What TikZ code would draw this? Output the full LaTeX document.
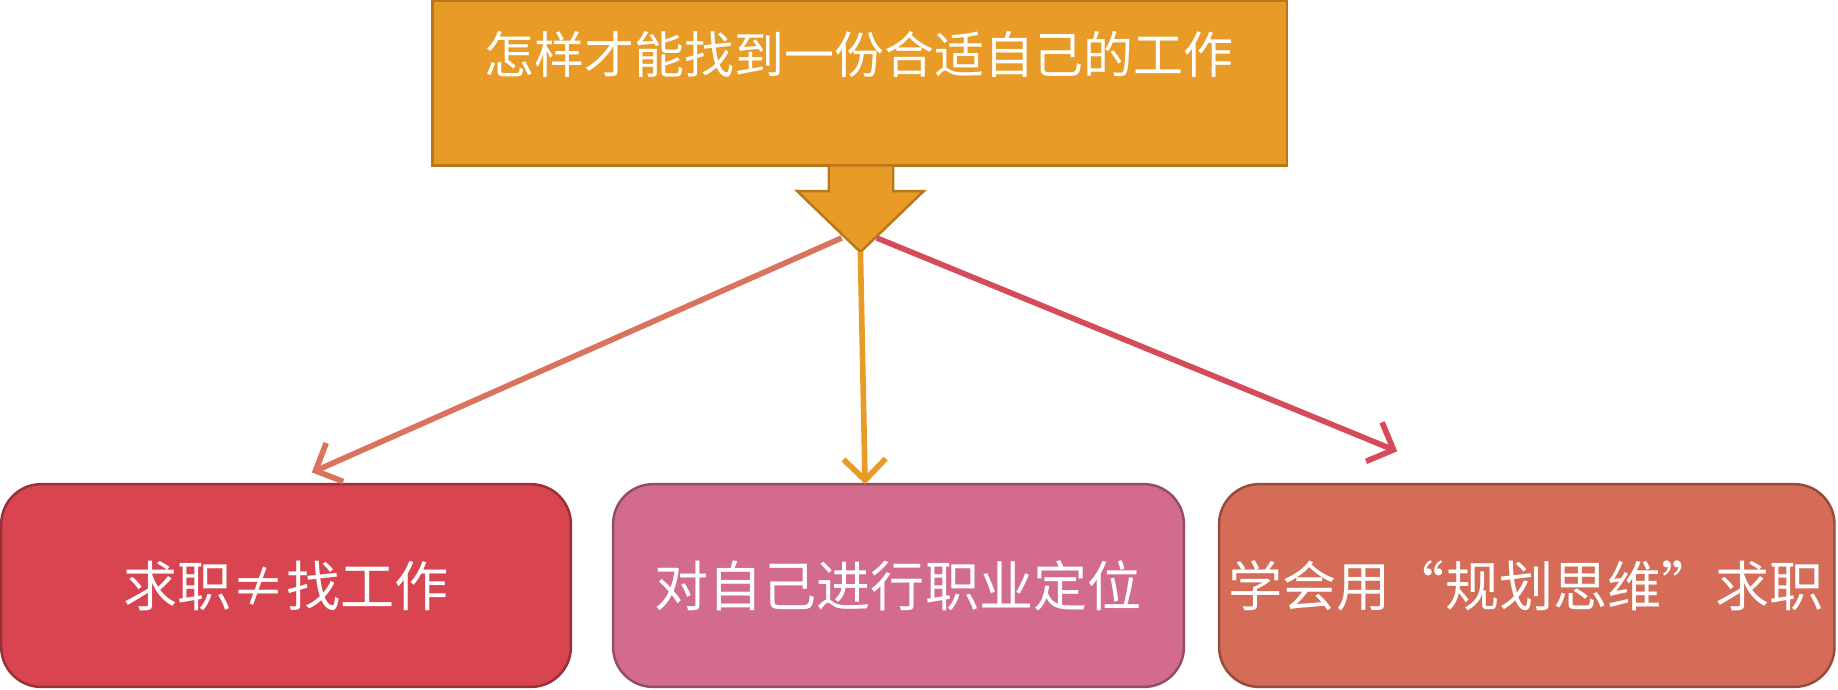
\documentclass[tikz,border=0pt]{standalone}
\usepackage{fontspec}
\setmainfont{Noto Sans CJK SC}
\usetikzlibrary{arrows.meta}
\definecolor{org}{HTML}{E89B26}
\definecolor{orgd}{HTML}{B87818}
\definecolor{c1}{HTML}{D8444F}
\definecolor{c2}{HTML}{D36C8C}
\definecolor{c3}{HTML}{D46C57}
\definecolor{l1}{HTML}{D9735E}
\definecolor{l3}{HTML}{D54B5A}
\tikzset{
 bot/.style={draw=#1!70!black, fill=#1, rounded corners=0.4cm, line width=0.7pt},
 lbl/.style={text=white, font=\fontsize{15.4}{17}\selectfont},
 conn/.style={line width=1.6pt, -{Straight Barb[length=6pt,width=12pt]}}
}
\begin{document}
\begin{tikzpicture}[x=0.011722cm,y=-0.011722cm]
\fill[white] (0,0) rectangle (1568,588);
\draw[fill=org, draw=orgd, line width=0.7pt] (369,1) rectangle (1098,141);
\node[lbl, font=\fontsize{14.2}{17}\selectfont] (title) at (733,46) {怎样才能找到一份合适自己的工作};
\draw[fill=org, draw=orgd, line width=0.7pt] (707,141) -- (762,141) -- (762,163) -- (788,163) -- (734,215) -- (680,163) -- (707,163) -- cycle;
\coordinate (tip) at (734,215);
\coordinate (s1) at (718,203);
\coordinate (s3) at (748,203);
\draw[bot=c1] (1,413) rectangle (487,586);
\draw[bot=c2] (523,413) rectangle (1010,586);
\draw[bot=c3] (1040,413) rectangle (1565,586);
\node[lbl] (b1) at (244,500) {求职≠找工作};
\node[lbl] (b2) at (766,500) {对自己进行职业定位};
\node[lbl] (b3) at (1302,500) {学会用“规划思维”求职};
\coordinate (e1) at (266,403);
\coordinate (e2) at (738,413);
\coordinate (e3) at (1192,385);
\draw[conn, draw=l1] (s1) -- (e1);
\draw[conn, draw=org] (tip) -- (e2);
\draw[conn, draw=l3] (s3) -- (e3);
\end{tikzpicture}
\end{document}
